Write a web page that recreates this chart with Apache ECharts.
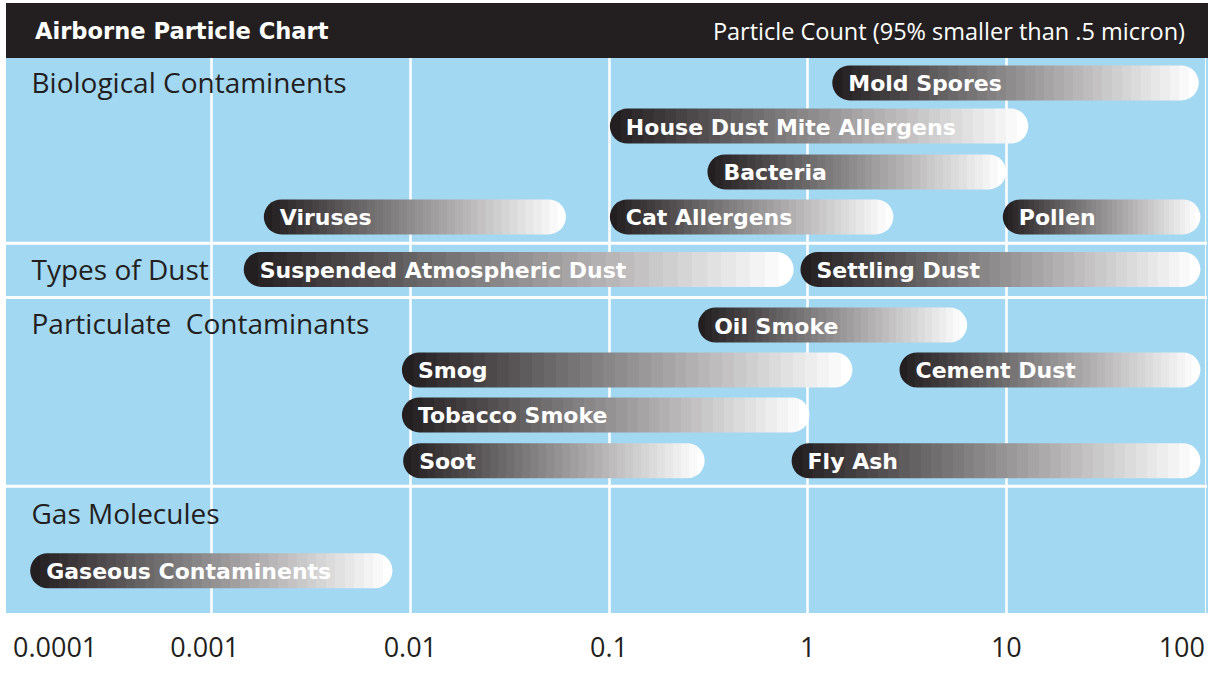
<!DOCTYPE html>
<html>
<head>
<meta charset="utf-8">
<script src="https://cdn.jsdelivr.net/npm/echarts@6/dist/echarts.min.js"></script>
<style>
html, body { margin: 0; padding: 0; background: #ffffff; }
#chart { width: 1208px; height: 693px; }
</style>
</head>
<body>
<div id="chart"></div>
<script>
// ---------- data ----------
const chartTitle = 'Airborne Particle Chart';
const chartSubtitle = 'Particle Count (95% smaller than .5 micron)';

const tickValues = [0.0001, 0.001, 0.01, 0.1, 1, 10, 100];
const tickLabels = ['0.0001', '0.001', '0.01', '0.1', '1', '10', '100'];

const groupNames = ['Biological Contaminents', 'Types of Dust', 'Particulate  Contaminants', 'Gas Molecules'];
const groupLabelRows = [0, 4.2, 5.42, 9.68];
const groupSeparatorRows = [3.62, 4.84, 9.08];

const particleNames = [
  'Mold Spores', 'House Dust Mite Allergens', 'Bacteria',
  'Viruses', 'Cat Allergens', 'Pollen',
  'Suspended Atmospheric Dust', 'Settling Dust',
  'Oil Smoke', 'Smog', 'Cement Dust', 'Tobacco Smoke',
  'Soot', 'Fly Ash', 'Gaseous Contaminents'
];
const sizeFrom = [1.33, 0.101, 0.313, 0.00183, 0.101, 9.6, 0.00145, 0.92, 0.281, 0.00907, 2.9, 0.00907, 0.0092, 0.83, 0.000122];
const sizeTo   = [93, 12.9, 9.97, 0.0607, 2.7, 94.8, 0.85, 94.8, 6.35, 1.68, 94.8, 1.02, 0.303, 94.8, 0.00813];
const particleRows = [0.02, 0.99, 2.02, 3.03, 3.03, 3.03, 4.21, 4.21, 5.46, 6.47, 6.47, 7.48, 8.51, 8.51, 10.98];

// ---------- styles ----------
const BLUE = '#a3d8f3';
const DARK = '#231f20';
const BAR_H = 35;
const BAND_COUNT = 38;

function steppedGradient() {
  const from = [35, 31, 32], to = [255, 255, 255];
  const stops = [];
  for (let i = 0; i < BAND_COUNT; i++) {
    const t = i / (BAND_COUNT - 1);
    const c = from.map((v, k) => Math.round(v + (to[k] - v) * t));
    const col = 'rgb(' + c.join(',') + ')';
    stops.push({ offset: i / BAND_COUNT, color: col });
    stops.push({ offset: (i + 1) / BAND_COUNT, color: col });
  }
  return new echarts.graphic.LinearGradient(0, 0, 1, 0, stops);
}

const chart = echarts.init(document.getElementById('chart'), null, { renderer: 'svg' });

const option = {
  animation: false,
  backgroundColor: '#ffffff',
  grid: {
    left: 13, right: 1.5, top: 58, bottom: 80,
    show: true, backgroundColor: BLUE, borderWidth: 0
  },
  xAxis: {
    type: 'log',
    logBase: 10,
    min: tickValues[0],
    max: tickValues[tickValues.length - 1],
    axisLine: { show: false },
    axisTick: { show: false },
    splitLine: { show: true, showMinLine: false, showMaxLine: false, lineStyle: { color: '#ffffff', width: 2.5 } },
    axisLabel: {
      margin: 20,
      fontSize: 27,
      fontFamily: '"Open Sans", sans-serif',
      color: DARK,
      alignMinLabel: 'left',
      alignMaxLabel: 'right',
      formatter: function (v) {
        const idx = Math.round(Math.log10(v)) - Math.round(Math.log10(tickValues[0]));
        const t = tickLabels[idx] !== undefined ? tickLabels[idx] : '';
        return idx === 1 ? '{shift|' + t + '}' : t;
      },
      rich: {
        shift: { fontSize: 27, fontFamily: '"Open Sans", sans-serif', color: DARK, padding: [0, 14, 0, 0] }
      }
    }
  },
  yAxis: {
    type: 'value',
    min: -0.54,
    max: 11.93,
    inverse: true,
    show: false
  },
  graphic: [
    { type: 'rect', z: -1, shape: { x: 6, y: 58, width: 8, height: 555 }, style: { fill: BLUE } },
    { type: 'rect', z: -1, shape: { x: 1206, y: 58, width: 2, height: 555 }, style: { fill: BLUE } },
    { type: 'rect', shape: { x: 6, y: 3, width: 1202, height: 55 }, style: { fill: DARK } },
    { type: 'text', x: 35, y: 31, style: { text: chartTitle, fill: '#ffffff', fontSize: 22.6, fontWeight: 'bold', fontFamily: '"DejaVu Sans", sans-serif', verticalAlign: 'middle', align: 'left' } },
    { type: 'text', x: 1185, y: 31, style: { text: chartSubtitle, fill: '#ffffff', fontSize: 23.5, fontFamily: '"Open Sans", sans-serif', verticalAlign: 'middle', align: 'right' } }
  ],
  series: [
    {
      type: 'custom',
      name: 'separators',
      silent: true,
      z: 1,
      data: groupSeparatorRows.map(r => [tickValues[0], r]),
      renderItem: function (params, api) {
        const y = api.coord([api.value(0), api.value(1)])[1];
        const cs = params.coordSys;
        return {
          type: 'line',
          shape: { x1: cs.x - 7.5, y1: y, x2: cs.x + cs.width + 2, y2: y },
          style: { stroke: '#ffffff', lineWidth: 3 }
        };
      }
    },
    {
      type: 'custom',
      name: 'groups',
      silent: true,
      z: 2,
      data: groupNames.map((n, i) => ({ name: n, value: [tickValues[0], groupLabelRows[i]] })),
      renderItem: function (params, api) {
        const y = api.coord([api.value(0), api.value(1)])[1];
        const cs = params.coordSys;
        return {
          type: 'text',
          x: cs.x + 18.5,
          y: y,
          style: {
            text: groupNames[params.dataIndex],
            fill: DARK,
            fontSize: 28,
            fontFamily: '"Open Sans", sans-serif',
            verticalAlign: 'middle',
            align: 'left'
          }
        };
      }
    },
    {
      type: 'custom',
      name: 'particles',
      silent: true,
      z: 3,
      encode: { x: [0, 1], y: 2 },
      data: particleNames.map((n, i) => ({ name: n, value: [sizeFrom[i], sizeTo[i], particleRows[i]] })),
      renderItem: function (params, api) {
        const s = api.coord([api.value(0), api.value(2)]);
        const e = api.coord([api.value(1), api.value(2)]);
        return {
          type: 'group',
          children: [
            {
              type: 'rect',
              shape: { x: s[0], y: s[1] - BAR_H / 2, width: e[0] - s[0], height: BAR_H, r: BAR_H / 2 },
              style: { fill: steppedGradient() }
            },
            {
              type: 'text',
              x: s[0] + 16,
              y: s[1] + 1,
              style: {
                text: particleNames[params.dataIndex],
                fill: '#ffffff',
                fontSize: 22,
                fontWeight: 'bold',
                fontFamily: '"DejaVu Sans", sans-serif',
                verticalAlign: 'middle',
                align: 'left'
              }
            }
          ]
        };
      }
    }
  ]
};

chart.setOption(option);
</script>
</body>
</html>
